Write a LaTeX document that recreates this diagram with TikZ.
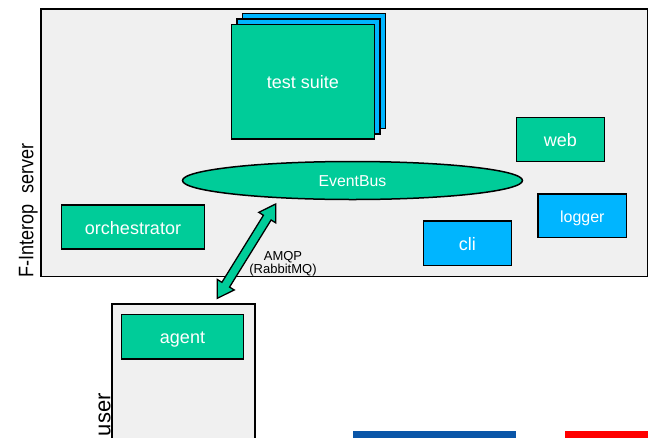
\documentclass[tikz,border=0pt]{standalone}
\usepackage{fontspec}
\setmainfont{Liberation Sans}
\usetikzlibrary{shapes.geometric,calc}

\definecolor{fgreen}{HTML}{00CC99}
\definecolor{fblue}{HTML}{00B5FF}
\definecolor{panel}{HTML}{F0F0F0}
\definecolor{barblue}{HTML}{0A56A8}
\definecolor{barred}{HTML}{FF0000}

\tikzset{
  container/.style={draw=black, line width=1.7pt, fill=panel},
  module/.style={draw=black, line width=1.5pt, fill=fgreen, text=white,
    inner sep=0pt, text height=15pt, text depth=1pt,
    font=\fontsize{18}{18}\selectfont},
  tool/.style={module, fill=fblue},
  layer/.style={draw=black, line width=1.5pt, fill=fblue},
  sidelabel/.style={rotate=90, anchor=base, inner sep=0pt},
  link/.style={draw=black, line width=1.3pt, fill=fgreen, line join=miter},
}

\begin{document}
\begin{tikzpicture}[x=1pt, y=-1pt]
\useasboundingbox (0,0) rectangle (648,437);
\clip (0,0) rectangle (648,437);

% server area
\node[container, anchor=north west, minimum width=607pt, minimum height=267.5pt,
  inner sep=0pt] (server) at (40,8) {};
\node[sidelabel] (serverlabel) at (33.3,210.3)
  {\scalebox{0.86}[1]{\fontsize{21}{21}\selectfont F-Interop\hspace{0.3em} server}};

% stacked test suites
\draw[layer] (242.7,13.3) rectangle (385.7,128.3);
\draw[layer] (237.2,18.8) rectangle (380.2,133.8);
\node[module, minimum width=142.6pt, minimum height=114.7pt] (suite) at (303,81.7) {test suite};

% message bus
\node[ellipse, draw=black, line width=1.5pt, fill=fgreen, text=white, inner sep=0pt,
  minimum width=340pt, minimum height=38pt, text height=12pt, text depth=1pt,
  font=\fontsize{15.8}{16}\selectfont]
  (bus) at (352.5,180.5) {EventBus};

% server components
\node[module, minimum width=142.6pt, minimum height=44pt] (orch) at (133,227) {orchestrator};
\node[module, minimum width=88.4pt, minimum height=44.4pt] (web) at (560.5,139.5) {web};
\node[tool, minimum width=88.7pt, minimum height=43.7pt, text height=14pt,
  font=\fontsize{16}{16}\selectfont] (logger) at (582.3,215.8) {logger};
\node[tool, minimum width=88pt, minimum height=44.3pt] (cli) at (467.3,243.2) {cli};

% user side
\node[container, anchor=north west, minimum width=143pt, minimum height=160pt,
  inner sep=0pt] (user) at (111,303.3) {};
\node[sidelabel] (userlabel) at (110.3,414.8) {\fontsize{22}{22}\selectfont user};
\node[module, minimum width=121.6pt, minimum height=44.7pt] (agent) at (182.5,336.7) {agent};

% AMQP link between agent and bus
\coordinate (bustip) at (275.7,204);
\coordinate (agenttip) at (217.3,298.3);
\path[link]
  (agenttip)
  -- ($(agenttip)!16pt!(bustip)!10pt!90:(bustip)$)
  -- ($(agenttip)!16pt!(bustip)!4.5pt!90:(bustip)$)
  -- ($(bustip)!16pt!(agenttip)!4.5pt!-90:(agenttip)$)
  -- ($(bustip)!16pt!(agenttip)!10pt!-90:(agenttip)$)
  -- (bustip)
  -- ($(bustip)!16pt!(agenttip)!10pt!90:(agenttip)$)
  -- ($(bustip)!16pt!(agenttip)!4.5pt!90:(agenttip)$)
  -- ($(agenttip)!16pt!(bustip)!4.5pt!-90:(bustip)$)
  -- ($(agenttip)!16pt!(bustip)!10pt!-90:(bustip)$)
  -- cycle;
\node[align=center, inner sep=0pt, font=\fontsize{13}{13}\selectfont]
  (amqp) at (283,263.5) {AMQP\\(RabbitMQ)};

% footer bars
\fill[barblue] (353,431) rectangle (516,440);
\fill[barred] (565,431) rectangle (650,440);
\end{tikzpicture}
\end{document}
